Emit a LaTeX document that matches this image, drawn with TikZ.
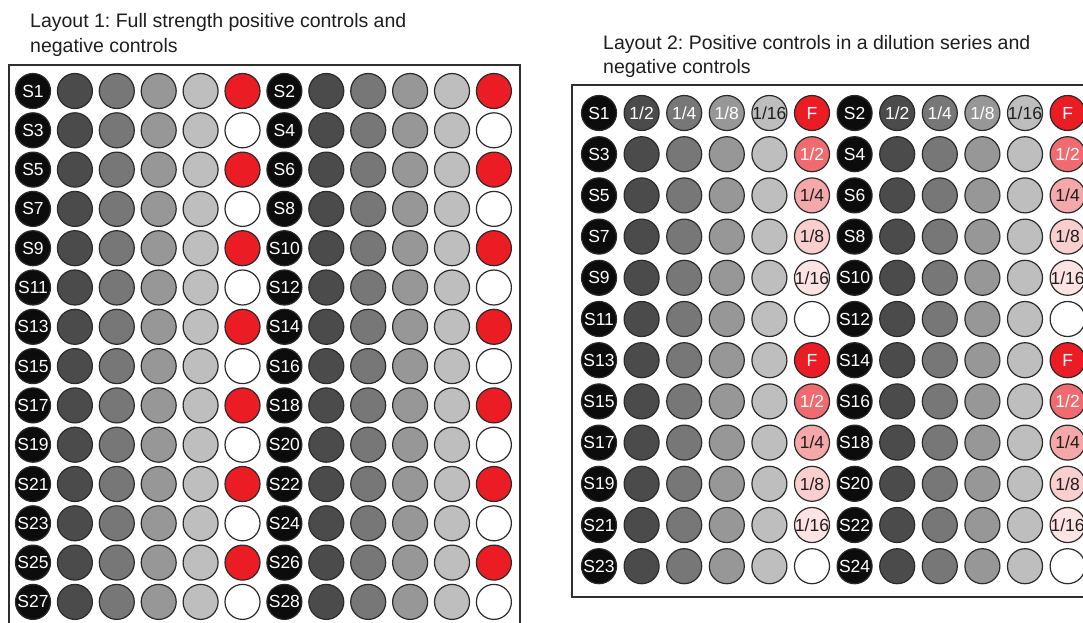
\documentclass[tikz,border=0pt]{standalone}
\usepackage{fontspec}
\newfontfamily\arialf{Liberation Sans}
\definecolor{cblack}{HTML}{0C0C0C}
\definecolor{g1}{HTML}{4B4B4B}
\definecolor{g2}{HTML}{777777}
\definecolor{g3}{HTML}{979797}
\definecolor{g4}{HTML}{BEBEBE}
\definecolor{cred}{HTML}{EC1C24}
\definecolor{p1}{HTML}{F06B70}
\definecolor{p2}{HTML}{F5A8AA}
\definecolor{p3}{HTML}{F9CECF}
\definecolor{p4}{HTML}{FDE3E3}
\definecolor{wline}{HTML}{2A2A2A}
\definecolor{tdark}{HTML}{1E1E1E}
\definecolor{frameline}{HTML}{2E2E2E}
\newcommand{\lbl}[1]{\makebox[0pt]{#1}}
\frenchspacing
\begin{document}
\begin{tikzpicture}[x=1pt,y=-1pt,
  well/.style={circle, draw=wline, line width=1.2pt, minimum size=35pt, inner sep=0pt,
    font=\arialf\fontsize{17.5}{19}\selectfont},
  plate/.style={draw=frameline, line width=1.4pt},
  titletext/.style={anchor=base west, inner sep=0pt, text=tdark,
    font=\arialf\fontsize{19.5}{24}\selectfont}]
\useasboundingbox (0,0) rectangle (1083,622);
\clip (0,0) rectangle (1083,622);
\fill[white] (0,0) rectangle (1083,622);

% titles
\node[titletext] (t1a) at (30,27) {Layout 1: Full strength positive controls and};
\node[titletext] (t1b) at (30,52) {negative controls};
\node[titletext] (t2a) at (603,49) {Layout 2: Positive controls in a dilution series and};
\node[titletext] (t2b) at (603,73) {negative controls};

% plate frames
\draw[plate] (9,65) rectangle (520,632);
\draw[plate] (572,85) rectangle (1100,597);

% Layout 1
\foreach \r in {0,...,13}{
  \pgfmathsetmacro\yy{91+39.3*\r}
  \pgfmathtruncatemacro\sa{2*\r+1}
  \pgfmathtruncatemacro\sb{2*\r+2}
  \ifodd\r \def\lastc{white}\else \def\lastc{cred}\fi
  \foreach \h/\s in {0/\sa,6/\sb}{
    \pgfmathsetmacro\xx{33+41.9*\h}
    \node[well, fill=cblack, text=white] (L1-\r-\h) at (\xx,\yy) {\lbl{S\s}};
    \foreach \c/\col in {1/g1,2/g2,3/g3,4/g4}{
      \pgfmathtruncatemacro\cc{\h+\c}
      \node[well, fill=\col] (L1-\r-\cc) at ({33+41.9*\cc},\yy) {};
    }
    \pgfmathtruncatemacro\cc{\h+5}
    \node[well, fill=\lastc] (L1-\r-\cc) at ({33+41.9*\cc},\yy) {};
  }
}

% Layout 2
\foreach \r in {0,...,11}{
  \pgfmathsetmacro\yy{113+41.2*\r}
  \pgfmathtruncatemacro\sa{2*\r+1}
  \pgfmathtruncatemacro\sb{2*\r+2}
  \pgfmathtruncatemacro\m{mod(\r,6)}
  \ifcase\m \def\lc{cred}\def\lt{F}\def\ltc{white}%
  \or \def\lc{p1}\def\lt{1/2}\def\ltc{white}%
  \or \def\lc{p2}\def\lt{1/4}\def\ltc{tdark}%
  \or \def\lc{p3}\def\lt{1/8}\def\ltc{tdark}%
  \or \def\lc{p4}\def\lt{1/16}\def\ltc{tdark}%
  \or \def\lc{white}\def\lt{}\def\ltc{tdark}%
  \fi
  \foreach \h/\s in {0/\sa,6/\sb}{
    \pgfmathsetmacro\xx{599+42.6*\h}
    \node[well, fill=cblack, text=white] (L2-\r-\h) at (\xx,\yy) {\lbl{S\s}};
    \foreach \c/\col in {1/g1,2/g2,3/g3,4/g4}{
      \pgfmathtruncatemacro\cc{\h+\c}
      \ifnum\r=0
        \ifcase\c \or \def\gl{1/2}\def\gc{white}\or \def\gl{1/4}\def\gc{white}%
        \or \def\gl{1/8}\def\gc{white}\or \def\gl{1/16}\def\gc{tdark}\fi
      \else \def\gl{}\def\gc{white}\fi
      \node[well, fill=\col, text=\gc] (L2-\r-\cc) at ({599+42.6*\cc},\yy) {\lbl{\gl}};
    }
    \pgfmathtruncatemacro\cc{\h+5}
    \node[well, fill=\lc, text=\ltc] (L2-\r-\cc) at ({599+42.6*\cc},\yy) {\lbl{\lt}};
  }
}
\end{tikzpicture}
\end{document}
